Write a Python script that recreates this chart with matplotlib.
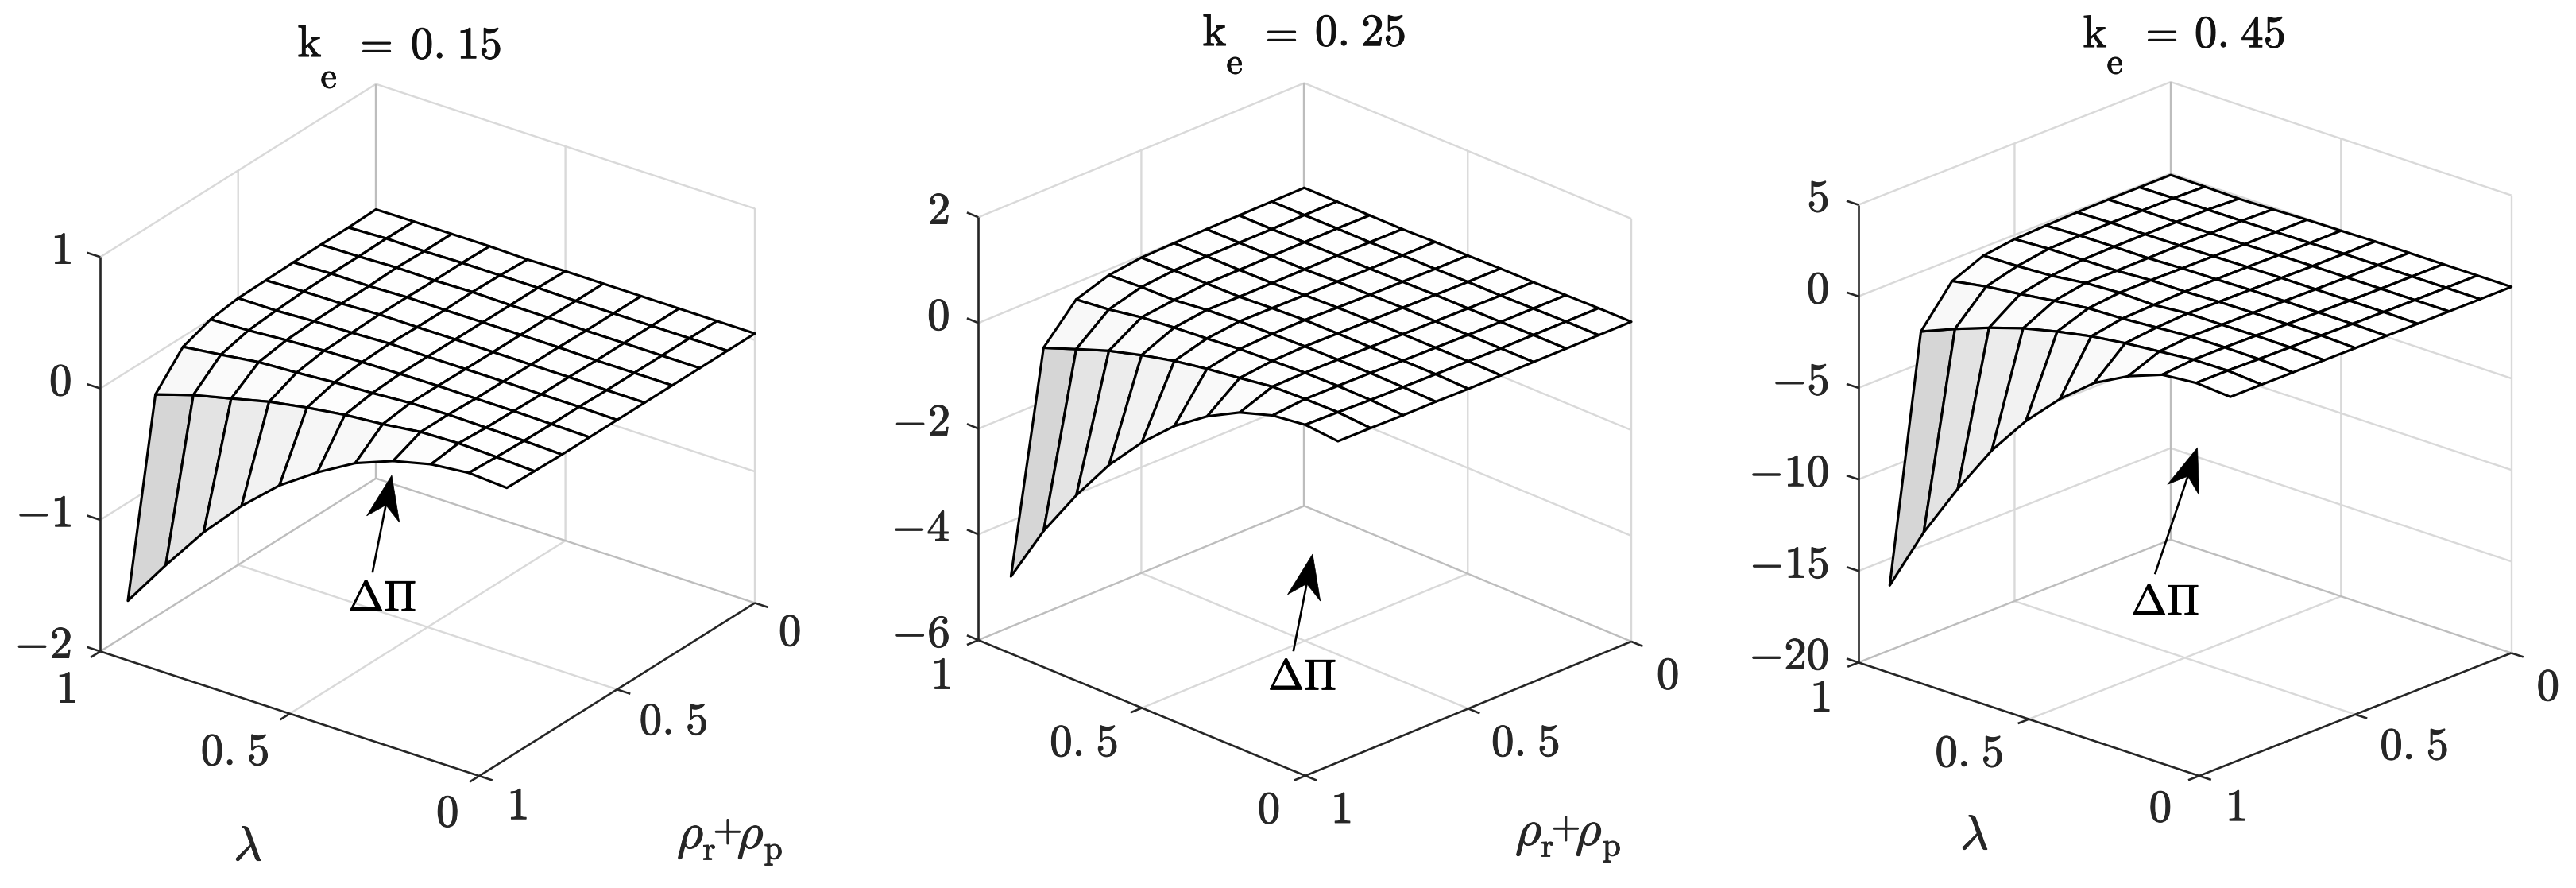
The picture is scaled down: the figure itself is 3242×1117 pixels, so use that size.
import numpy as np
import matplotlib
matplotlib.use("Agg")
import matplotlib.pyplot as plt
import matplotlib.patheffects as pe
from matplotlib.patches import Polygon
from matplotlib.lines import Line2D
from mpl_toolkits.mplot3d import proj3d

W, H = 3242, 1117
plt.rcParams['mathtext.fontset'] = 'cm'
plt.rcParams['font.family'] = ['STIXGeneral', 'DejaVu Serif']

lam = [0, .1, .2, .3, .4, .5, .6, .7, .8, .9, 1]
rho = [0, .1, .2, .3, .4, .5, .6, .7, .8, .9]

# one list per lambda value (0 ... 1), entries for rho = 0 ... 0.9
z_015 = [
 [.05,.05,.05,.05,.05,.05,.05,.05,.055,.06],
 [.05,.05,.05,.05,.05,.055,.055,.06,.068,.079],
 [.05,.05,.05,.05,.055,.055,.06,.065,.078,.05],
 [.05,.05,.05,.055,.055,.058,.06,.07,.069,-.02],
 [.05,.05,.055,.055,.056,.058,.062,.063,.034,-.131],
 [.05,.055,.055,.056,.057,.058,.058,.044,.01,-.296],
 [.044,.055,.06,.055,.056,.062,.053,.03,-.03,-.49],
 [.05,.055,.053,.057,.057,.05,.045,.01,-.08,-.741],
 [.049,.049,.056,.047,.046,.043,.03,-.005,-.15,-1.036],
 [.049,.051,.046,.047,.043,.029,.01,-.043,-.218,-1.381],
 [.046,.04,.041,.038,.033,.029,-.001,-.078,-.308,-1.747],
]
z_025 = [
 [.05,.05,.05,.05,.05,.05,.06,.06,.07,.075],
 [.05,.05,.05,.05,.06,.07,.08,.09,.113,.13],
 [.04,.04,.04,.05,.06,.07,.09,.1,.105,.05],
 [.03,.03,.04,.05,.06,.07,.085,.092,.083,-.15],
 [.03,.03,.04,.05,.06,.07,.08,.06,-.01,-.48],
 [.02,.02,.03,.04,.05,.068,.059,.027,-.093,-.92],
 [.02,.02,.02,.03,.03,.036,.04,-.03,-.2,-1.49],
 [.006,.01,.015,.005,0,-.004,0,-.08,-.346,-2.17],
 [.01,.014,.008,.003,-.007,-.011,-.07,-.143,-.52,-3.0],
 [.015,.011,0,-.004,-.006,-.02,-.08,-.25,-.745,-3.93],
 [.018,.012,.003,-.003,-.014,-.033,-.113,-.317,-.977,-5.05],
]
z_045 = [
 [0,0,0,0,.01,.01,.02,.02,.03,.03],
 [0,0,0,.02,.04,.08,.1,.13,.17,.17],
 [0,0,0,.02,.05,.08,.12,.15,.15,0],
 [0,0,0,.02,.05,.08,.1,.13,-.02,-.7],
 [0,0,0,.02,.04,.06,.1,0,-.19,-1.69],
 [-.03,-.03,-.02,0,0,0,-.06,-.13,-.43,-3.18],
 [-.05,-.05,-.05,-.03,-.02,0,-.01,-.19,-.79,-5],
 [-.1,-.06,-.06,-.06,-.08,-.1,-.1,-.4,-1.23,-7.22],
 [-.14,-.07,-.07,-.07,-.08,-.12,-.32,-.65,-1.82,-9.94],
 [-.1,-.06,-.06,-.06,-.09,-.14,-.41,-.86,-2.5,-12.94],
 [-.08,-.08,-.08,-.11,-.16,-.23,-.46,-1.18,-3.26,-16.46],
]
zticks_015 = [-2, -1, 0, 1]
zticks_025 = [-6, -4, -2, 0, 2]
zticks_045 = [-20, -15, -10, -5, 0, 5]
xy_ticks = [0, .5, 1]
xy_labels = ['$0$', r'$0.\hspace{0.08}5$', '$1$']
ke_labels = [r'$0.\hspace{0.08}15$', r'$0.\hspace{0.08}25$', r'$0.\hspace{0.08}45$']

panels = [
 dict(z=z_015, zt=zticks_015, ke=ke_labels[0],
      tk=(390, 58), te=(414, 100), teq=(469, 60), tn=(574, 60),
      el=27.0, az=125.9, box=(589, 592, 557),
      left=(126.2, 819.2), right=(950, 758.7), front=(603.2, 975.9),
      lam_off=[(-40, 50), (-69, 51), (-43, 51)], rho_off=[(44, 40), (71, 43), (48, 41)], zdx=-36,
      lam_lab=(312, 1068), rho_lab=(917, 1065),
      dp=(481, 756), tail=(469, 719), tip=(493, 598)),
 dict(z=z_025, zt=zticks_025, ke=ke_labels[1],
      tk=(1529, 44), te=(1554, 82), teq=(1608, 46), tn=(1712, 44),
      el=24.4, az=135.1, box=(583, 579, 584),
      left=(1231.3, 805), right=(2053, 807), front=(1642.9, 975.9),
      lam_off=[(-46, 46), (-73, 47), (-47, 48)], rho_off=[(46, 46), (72, 46), (45, 46)], zdx=-36,
      lam_lab=None, rho_lab=(1972, 1061),
      dp=(1639, 855), tail=(1628, 818), tip=(1652, 697)),
 dict(z=z_045, zt=zticks_045, ke=ke_labels[2],
      tk=(2637, 46), te=(2662, 82), teq=(2716, 46), tn=(2819, 46),
      el=21.2, az=132.6, box=(582, 580, 617),
      left=(2339, 833.5), right=(3160.7, 821.3), front=(2767.7, 975.9),
      lam_off=[(-49, 44), (-75, 46), (-48, 48)], rho_off=[(46, 46), (74, 43), (46, 43)], zdx=-37,
      lam_lab=(2485, 1054), rho_lab=None,
      dp=(2725, 761), tail=(2712.5, 721), tip=(2765.6, 563)),
]

DARK = '#262626'
LIGHT = '#d9d9d9'
MID = '#bdbdbd'
FS = 41

fig = plt.figure(figsize=(W / 100, H / 100), dpi=100, facecolor='white')


def P(x, y):
    return (x / W, 1 - y / H)


def to_px(ax, x, y, z):
    u, v, _ = proj3d.proj_transform(x, y, z, ax.get_proj())
    d = ax.transData.transform((u, v))
    return d[0], H - d[1]


def fit_axes(ax, p, zmin):
    ax.set_position([0, 0, 1000 / W, 1000 / H])
    ax.apply_aspect()
    a = np.array(to_px(ax, 1, 1, zmin))
    b = np.array(to_px(ax, 0, 0, zmin))
    c = np.array(to_px(ax, 0, 1, zmin))
    s = (p['right'][0] - p['left'][0]) / (b[0] - a[0])
    side = 1000 * s
    cur = np.mean([a, b, c], axis=0)
    tgt = np.mean([p['left'], p['right'], p['front']], axis=0)
    off = cur - np.array([0, H])
    new = tgt - s * off
    ax.set_position([new[0] / W, (H - new[1]) / H, side / W, side / H])
    ax.apply_aspect()


def line(ax, xs, ys, zs, color, lw=1.7, zorder=1):
    ax.plot(xs, ys, zs, color=color, lw=lw, zorder=zorder, clip_on=False,
            solid_capstyle='butt')


def put(xy, s, size, color=DARK, ha='center'):
    t = fig.text(*P(*xy), s, ha=ha, va='center', fontsize=size, color=color)
    t.set_path_effects([pe.withStroke(linewidth=0.7, foreground=color)])


gray_t = [0, .2, .4, .55, .7, .85, 1]
gray_v = [.84, .89, .925, .95, .965, .98, 1]

for p in panels:
    ax = fig.add_axes([0, 0, 1000 / W, 1000 / H], projection='3d', proj_type='ortho')
    ax.computed_zorder = False
    zt = p['zt']
    zmin, zmax = zt[0], zt[-1]
    ax.set_xlim(0, 1, view_margin=0)
    ax.set_ylim(0, 1, view_margin=0)
    ax.set_zlim(zmin, zmax, view_margin=0)
    ax.set_box_aspect(p['box'])
    ax.view_init(elev=p['el'], azim=p['az'])
    ax.set_axis_off()
    ax.patch.set_alpha(0)
    fit_axes(ax, p, zmin)

    # walls and floor
    for z in zt[1:]:
        line(ax, [1, 1, 0], [1, 0, 0], [z, z, z], LIGHT)
    line(ax, [.5, .5, .5], [1, 0, 0], [zmin, zmin, zmax], LIGHT)
    line(ax, [0, 1, 1], [.5, .5, .5], [zmin, zmin, zmax], LIGHT)
    line(ax, [0, 0], [0, 0], [zmin, zmax], LIGHT)
    line(ax, [1, 1, 0], [1, 0, 0], [zmin, zmin, zmin], MID)
    line(ax, [1, 1], [0, 0], [zmin, zmax], MID)

    # surface
    X, Y = np.meshgrid(lam, rho)
    Z = np.array(p['z']).T
    zf = np.full(Z.shape, Z.max())
    zf[:-1, :-1] = np.min([Z[:-1, :-1], Z[1:, :-1], Z[:-1, 1:], Z[1:, 1:]], axis=0)
    t = (zf - Z.min()) / (Z.max() - Z.min())
    g = np.interp(t, gray_t, gray_v)
    fc = np.dstack([g, g, g, np.ones_like(g)])
    surf = ax.plot_surface(X, Y, Z, facecolors=fc, rstride=1, cstride=1,
                           shade=False, zorder=2, antialiased=True)
    surf.set_edgecolor('black')
    surf.set_linewidth(2.25)

    # axis lines and ticks
    line(ax, [1, 1], [1, 1], [zmin, zmax], DARK, lw=1.9, zorder=3)
    line(ax, [1, 0], [1, 1], [zmin, zmin], DARK, lw=1.9, zorder=3)
    line(ax, [0, 0], [1, 0], [zmin, zmin], DARK, lw=1.9, zorder=3)
    for z in zt:
        line(ax, [1, 1.035], [1, 1], [z, z], DARK, lw=1.9, zorder=3)
        x0, y0 = to_px(ax, 1, 1, z)
        put((x0 + p['zdx'], y0 - 5), f'${z}$', FS, ha='right')
    for v, s, off in zip(xy_ticks, xy_labels, p['lam_off']):
        line(ax, [v, v], [1, 1.035], [zmin, zmin], DARK, lw=1.9, zorder=3)
        x0, y0 = to_px(ax, v, 1, zmin)
        put((x0 + off[0], y0 + off[1]), s, FS)
    for v, s, off in zip(xy_ticks, xy_labels, p['rho_off']):
        line(ax, [0, -.035], [v, v], [zmin, zmin], DARK, lw=1.9, zorder=3)
        x0, y0 = to_px(ax, 0, v, zmin)
        put((x0 + off[0], y0 + off[1]), s, FS)

    if p['lam_lab']:
        put(p['lam_lab'], r'$\lambda$', 44)
    if p['rho_lab']:
        cx, cy = p['rho_lab']
        put((cx - 48, cy - 11), r'$\rho$', 46)
        put((cx - 24, cy + 7), r'$\mathrm{r}$', 30)
        put((cx - 1.5, cy - 18), r'$+$', 34)
        put((cx + 27.5, cy - 11), r'$\rho$', 46)
        put((cx + 56.5, cy + 7), r'$\mathrm{p}$', 30)

    # title pieces
    put(p['tk'], r'$\mathrm{k}$', 41, '#111111')
    put(p['te'], r'$\mathrm{e}$', 33, '#111111')
    put(p['teq'], '$=$', 38, '#111111')
    put(p['tn'], p['ke'], 41, '#111111')

    # annotation
    put(p['dp'], r'$\Delta\Pi$', 39, 'black')
    tail, tip = np.array(p['tail'], float), np.array(p['tip'], float)
    u = (tip - tail) / np.linalg.norm(tip - tail)
    n = np.array([-u[1], u[0]])
    notch = tip - 38 * u
    fig.add_artist(Line2D(*zip(P(*tail), P(*notch)), transform=fig.transFigure,
                          color='black', lw=1.9))
    pts = [tip, tip - 56 * u + 21 * n, notch, tip - 56 * u - 21 * n]
    fig.add_artist(Polygon([P(*q) for q in pts], closed=True, transform=fig.transFigure,
                           facecolor='black', edgecolor='black', lw=0.5))

fig.savefig('out.png', dpi=100, facecolor='white')
